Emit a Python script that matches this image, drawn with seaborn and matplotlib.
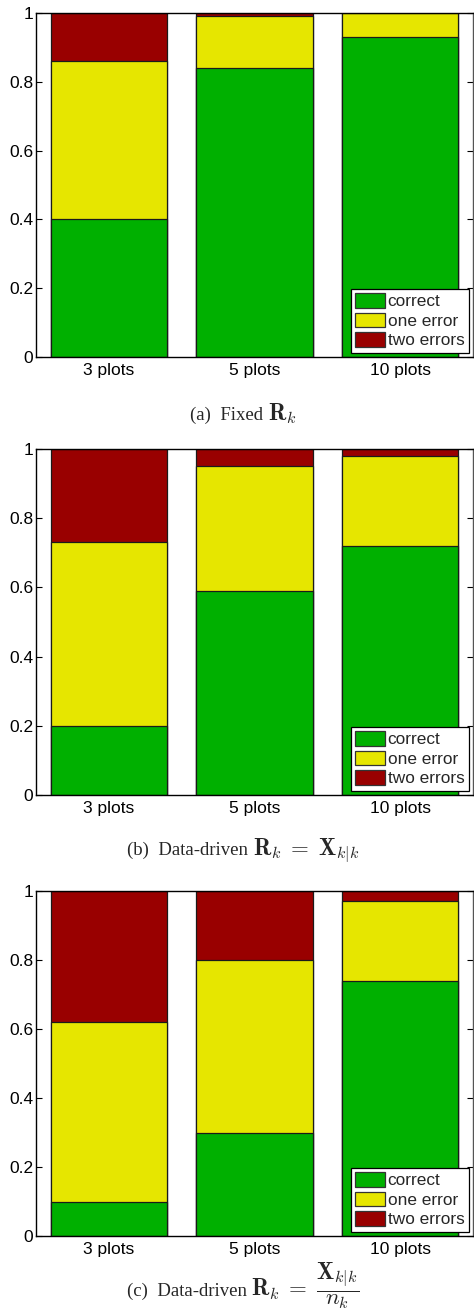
import matplotlib
matplotlib.use("Agg")
import matplotlib.pyplot as plt
from matplotlib.patches import Patch
from matplotlib.ticker import FixedLocator, FuncFormatter
import seaborn as sns
import pandas as pd

# Share of tracks per outcome, for each number of plots
categories = ["3 plots", "5 plots", "10 plots"]
outcomes = ["correct", "one error", "two errors"]

fixed_correct = [0.40, 0.84, 0.93]
fixed_one = [0.46, 0.15, 0.07]
fixed_two = [0.14, 0.01, 0.00]

xkk_correct = [0.20, 0.59, 0.72]
xkk_one = [0.53, 0.36, 0.26]
xkk_two = [0.27, 0.05, 0.02]

xkn_correct = [0.10, 0.30, 0.74]
xkn_one = [0.52, 0.50, 0.23]
xkn_two = [0.38, 0.20, 0.03]

# caption = plain words followed by the formula
caption_words = ["(a)  Fixed ", "(b)  Data-driven ", "(c)  Data-driven "]
caption_math = [
    r"$\mathbf{R}_k$",
    r"$\mathbf{R}_k\;=\;\mathbf{X}_{k|k}$",
    r"$\mathbf{R}_k\;=\;\dfrac{\mathbf{X}_{k|k}}{n_k}$",
]

colors = {"correct": "#00b000", "one error": "#e6e600", "two errors": "#990000"}

sns.set_theme(style="white")
plt.rcParams["font.family"] = ["Liberation Sans", "DejaVu Sans"]
plt.rcParams["mathtext.fontset"] = "cm"

W, H = 474, 1315
fig = plt.figure(figsize=(W / 100, H / 100), dpi=100)

# axes boxes in pixels: (left, top, right, bottom)
boxes = [(36, 13, 473, 357), (36, 449, 473, 795), (36, 891, 473, 1236)]
caption_baseline = [420, 855, 1296]

panels = [
    (fixed_correct, fixed_one, fixed_two),
    (xkk_correct, xkk_one, xkk_two),
    (xkn_correct, xkn_one, xkn_two),
]

caption_pairs = []
for (l, t, r, b), (c, o, tw), words, math, cy in zip(boxes, panels, caption_words,
                                                      caption_math, caption_baseline):
    ax = fig.add_axes([l / W, 1 - b / H, (r - l) / W, (b - t) / H])
    df = pd.DataFrame({"plots": categories, "correct": c, "one error": o, "two errors": tw})
    cum = df[outcomes].cumsum(axis=1)
    # draw stacked segments from the top layer down so each covers the one below
    for name in reversed(outcomes):
        sns.barplot(data=pd.DataFrame({"plots": categories, "v": cum[name]}),
                    x="plots", y="v", color=colors[name], saturation=1,
                    width=0.8, edgecolor="#1a1a1a", linewidth=0.9, ax=ax)
    ax.set_xlim(-0.5, 2.5)
    ax.set_ylim(0, 1)
    ax.set_xlabel("")
    ax.set_ylabel("")
    ax.yaxis.set_major_locator(FixedLocator([0, 0.2, 0.4, 0.6, 0.8, 1.0]))
    ax.yaxis.set_major_formatter(FuncFormatter(lambda v, p: f"{v:g}"))
    ax.tick_params(axis="y", direction="in", length=4, width=0.8, left=True, right=True,
                   labelsize=12.5, pad=2, colors="black")
    ax.tick_params(axis="x", direction="in", length=0, labelsize=12.5, pad=4, colors="black")
    for side in ["left", "bottom", "top"]:
        ax.spines[side].set_color("black")
        ax.spines[side].set_linewidth(1.0)
    ax.spines["right"].set_color("#555555")
    ax.spines["right"].set_linewidth(1.0)
    handles = [Patch(facecolor=colors[n], edgecolor="#333333", linewidth=0.9, label=n) for n in outcomes]
    leg = ax.legend(handles=handles, loc="lower right", fontsize=12.4, frameon=True,
                    fancybox=False, framealpha=1, edgecolor="black",
                    borderaxespad=0.25, borderpad=0.25, labelspacing=0.2,
                    handlelength=1.75, handleheight=0.9, handletextpad=0.15)
    leg.get_frame().set_linewidth(0.9)

    yb = 1 - cy / H
    t1 = fig.text(0, yb, words, ha="left", va="baseline", fontsize=13.5,
                  family=["Liberation Serif", "DejaVu Serif"])
    t2 = fig.text(0, yb, math, ha="left", va="baseline", fontsize=16.5)
    caption_pairs.append((t1, t2))

# centre each caption line (words + formula) under the axes
renderer = fig.canvas.get_renderer()
center = 243
for t1, t2 in caption_pairs:
    w1 = t1.get_window_extent(renderer).width
    w2 = t2.get_window_extent(renderer).width
    x0 = center - (w1 + w2) / 2
    t1.set_x(x0 / W)
    t2.set_x((x0 + w1) / W)

fig.savefig("out.png", dpi=100)
